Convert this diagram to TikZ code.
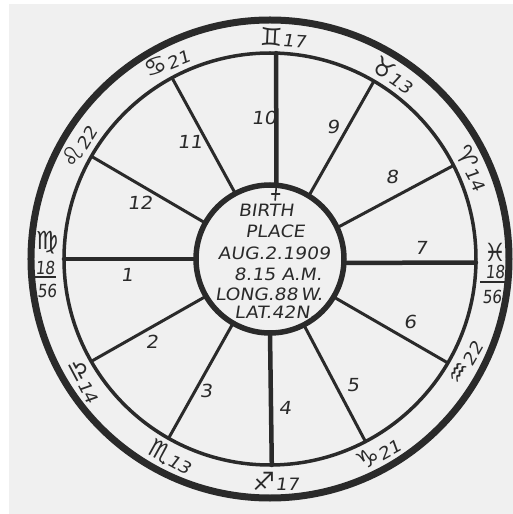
\documentclass[tikz,border=0pt]{standalone}
\usepackage{fontspec}
\usepackage{xcolor}
\newfontfamily\handfont[FakeSlant=0.15,FakeStretch=1.1]{DejaVu Sans}
\newfontfamily\signfont{DejaVu Sans}
\newfontfamily\slimfont[FakeSlant=0.1,FakeStretch=0.85]{DejaVu Sans}
\newcommand\zs[1]{{\signfont\fontsize{25}{25}\selectfont #1}}
\definecolor{ink}{HTML}{2A2A2A}
\definecolor{paper}{HTML}{F0F0F0}

\begin{document}
\begin{tikzpicture}[
  x=1pt, y=1pt,
  ring/.style={draw=ink},
  cusp/.style={draw=ink, line cap=round},
  housenum/.style={text=ink, inner sep=0pt, font=\handfont\fontsize{18}{18}\selectfont},
  signlabel/.style={text=ink, inner sep=0pt, font=\handfont\fontsize{17}{17}\selectfont},
  stack/.style={text=ink, inner sep=0pt, font=\slimfont\fontsize{18}{18}\selectfont},
  info/.style={text=ink, inner sep=0pt, font=\handfont\fontsize{17}{17}\selectfont}
]
\useasboundingbox (-270,-255) rectangle (243,259);
\fill[white] (-270,-255) rectangle (243,259);
\fill[paper] (-261,-255) rectangle (243,255);

% wheel
\coordinate (c) at (0,0);
\draw[ring, line width=7pt] (c) circle (239);
\draw[ring, line width=3.5pt] (c) circle (206);
\draw[ring, line width=5.5pt] (c) circle (74);

% house cusps
\foreach \n/\a/\b/\w in {1/180/180/4.5, 2/210.2/209.8/3, 3/240.1/240.5/3, 4/270/270.5/4.5,
    5/297.2/297.6/3, 6/329.2/329.7/3, 7/357/359/4.5, 8/25/27/3,
    9/58.4/59.7/3, 10/85/88.3/4.5, 11/117.9/118.4/3, 12/150.9/150.1/3}{
  \coordinate (in\n) at (\a:74);
  \coordinate (out\n) at (\b:206);
  \draw[cusp, line width=\w pt] (in\n) -- (out\n);
}
\coordinate (mark) at (85:65);
\draw[cusp, line width=1.6pt] (in10) -- (85:59);
\draw[cusp, line width=1.6pt] ([xshift=-4pt]mark) -- ([xshift=4pt]mark);

% house numbers
\node[housenum] (h1) at (-143,-16) {1};
\node[housenum] (h2) at (-118,-83) {2};
\node[housenum] (h3) at (-64,-132) {3};
\node[housenum] (h4) at (15,-149) {4};
\node[housenum] (h5) at (83,-126) {5};
\node[housenum] (h6) at (140,-63) {6};
\node[housenum] (h7) at (151,11) {7};
\node[housenum] (h8) at (122,82) {8};
\node[housenum] (h9) at (63,132) {9};
\node[housenum] (h10) at (-6,141) {10};
\node[housenum] (h11) at (-80,117) {11};
\node[housenum] (h12) at (-130,56) {12};

% signs on the cusps
\foreach \nm/\ang/\rot/\txt in {gem/86.6/-3/\zs{♊}17, can/117.6/22/\zs{♋}21,
    leo/149.4/59/\zs{♌}22, lib/213.4/-62/\zs{♎}14, sco/243.4/-29/\zs{♏}13,
    sag/271.5/0/\zs{♐}17, cap/299.2/29/\zs{♑}21, aqu/332.1/60/\zs{♒}22,
    ari/24.2/-62/\zs{♈}14, tau/56.2/-34/\zs{♉}13}{
  \node[signlabel, rotate=\rot] (\nm) at (\ang:222) {\txt};
}

% ascendant and descendant
\node[stack] (vir) at (-223,16) {\zs{♍}};
\node[stack] (virdeg) at (-225,-9) {18};
\node[stack] (virmin) at (-223,-32) {56};
\draw[ring, line width=1.6pt] ([xshift=-10pt,yshift=-2pt]virdeg.south) -- ([xshift=11pt,yshift=-2pt]virdeg.south);
\node[stack] (pis) at (225,7) {\zs{♓}};
\node[stack] (pisdeg) at (225,-13) {18};
\node[stack] (pismin) at (222,-38) {56};
\draw[ring, line width=1.6pt] ([xshift=-15pt,yshift=-3pt]pisdeg.south) -- ([xshift=11pt,yshift=-3pt]pisdeg.south);

% birth data
\node[info] (birth) at (-4,49) {BIRTH};
\node[info] (place) at (5,28) {PLACE};
\node[info] (date) at (4,6) {AUG.2.1909};
\node[info] (time) at (8,-15) {8.15 A.M.};
\node[info] (long) at (-1,-35) {LONG.88\,W.};
\node[info] (lat) at (5,-53) {LAT.42N.};

\end{tikzpicture}
\end{document}
